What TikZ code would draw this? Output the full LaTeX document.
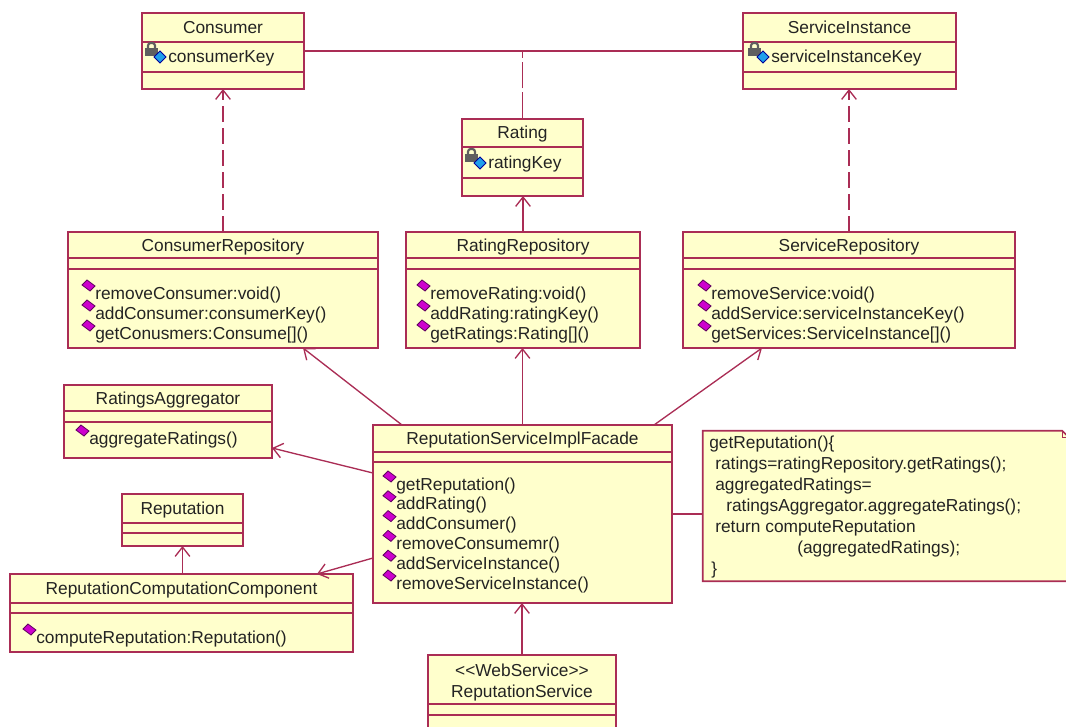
\documentclass[tikz,border=0pt]{standalone}
\usepackage{fontspec}
\setmainfont{Liberation Sans}
\usetikzlibrary{arrows.meta,calc,fit}

\definecolor{umlfill}{RGB}{255,255,204}
\definecolor{umlline}{RGB}{170,45,85}
\definecolor{umltext}{RGB}{35,35,35}
\definecolor{opmag}{RGB}{205,0,205}
\definecolor{opdark}{RGB}{95,0,95}
\definecolor{keycyan}{RGB}{30,160,235}
\definecolor{lockgray}{RGB}{95,95,95}

\newcommand{\umlfont}{\fontsize{13}{15}\selectfont}

\tikzset{
  clsbox/.style={draw=umlline, fill=umlfill, line width=1.2pt, inner sep=0pt, outer sep=0pt},
  clsline/.style={draw=umlline, line width=1.2pt},
  clstitle/.style={anchor=base, inner sep=0pt, text=umltext, font=\umlfont},
  member/.style={anchor=base west, inner sep=0pt, text=umltext, font=\umlfont},
  assoc/.style={draw=umlline, line width=1pt},
  linkdash/.style={dash pattern=on 20pt off 3pt},
  dep/.style={assoc, dash pattern=on 12pt off 4.5pt, -{Straight Barb[length=7pt,width=11pt]}},
  nav/.style={assoc, -{Straight Barb[length=7pt,width=11pt]}},
  opicon/.pic={
    \filldraw[draw=opdark, fill=opmag, line width=0.6pt]
      (-13,-8) -- (-8,-13) -- (0,-7) -- (-5,-2) -- cycle;
  },
  keyicon/.pic={
    \draw[lockgray, line width=1.6pt, rounded corners=2pt] (-20,-8) -- (-20,-14) -- (-13,-14) -- (-13,-8);
    \fill[lockgray] (-23,-9) rectangle (-10,-1);
    \filldraw[draw=blue!60!black, fill=keycyan, line width=0.6pt]
      (-14,0) -- (-8,-6) -- (-2,0) -- (-8,6) -- cycle;
  },
}

% name, left, top, right, bottom, first divider, second divider, title
\newcommand{\umlclass}[8]{%
  \node[clsbox, fit={(#2,#3) (#4,#5)}] (#1) {};
  \draw[clsline] (#2,#6) -- (#4,#6) (#2,#7) -- (#4,#7);
  \node[clstitle] (#1-t) at ({(#2+#4)/2},{(#3+#6)/2+6}) {#8};
}
\newcommand{\umlop}[4]{%
  \pic at (#2,#3) {opicon};
  \node[member] (#1) at (#2,{#3+6}) {#4};
}
\newcommand{\umlattr}[4]{%
  \pic at (#2,#3) {keyicon};
  \node[member] (#1) at (#2,{#3+6}) {#4};
}

\begin{document}
\begin{tikzpicture}[x=0.75pt, y=-0.75pt]
  \useasboundingbox (0,0) rectangle (1066,727);

  \umlclass{consumer}{142}{13}{304}{89}{42}{72}{Consumer}
  \umlclass{svcinst}{743}{13}{956}{89}{42}{72}{ServiceInstance}
  \umlclass{rating}{462}{119}{583}{196}{147}{178}{Rating}
  \umlclass{conrepo}{68}{232}{378}{348}{258}{269}{ConsumerRepository}
  \umlclass{ratrepo}{406}{232}{640}{348}{258}{269}{RatingRepository}
  \umlclass{svcrepo}{683}{232}{1015}{348}{258}{269}{ServiceRepository}
  \umlclass{ragg}{64}{385}{272}{458}{411}{422}{RatingsAggregator}
  \umlclass{facade}{373}{425}{672}{603}{452}{462}{ReputationServiceImplFacade}
  \umlclass{reput}{122}{494}{243}{546}{523}{533}{Reputation}
  \umlclass{rcc}{10}{574}{353}{652}{603}{613}{ReputationComputationComponent}

  \node[clsbox, fit={(428,655) (616,740)}] (websvc) {};
  \draw[clsline] (428,704) -- (616,704) (428,715) -- (616,715);
  \node[clstitle] (websvc-s) at (522,676) {{<}{<}WebService{>}{>}};
  \node[clstitle] (websvc-t) at (522,697) {ReputationService};

  \umlattr{consumer-a}{168}{57}{consumerKey}
  \umlattr{svcinst-a}{771}{57}{serviceInstanceKey}
  \umlattr{rating-a}{488}{163}{ratingKey}

  \foreach \op [count=\i, evaluate=\i as \y using 273+20*\i] in
    {{removeConsumer:void()}, {addConsumer:consumerKey()}, {getConusmers:Consume[]()}}
    {\umlop{conrepo-\i}{95}{\y}{\op}}
  \foreach \op [count=\i, evaluate=\i as \y using 273+20*\i] in
    {{removeRating:void()}, {addRating:ratingKey()}, {getRatings:Rating[]()}}
    {\umlop{ratrepo-\i}{430}{\y}{\op}}
  \foreach \op [count=\i, evaluate=\i as \y using 273+20*\i] in
    {{removeService:void()}, {addService:serviceInstanceKey()}, {getServices:ServiceInstance[]()}}
    {\umlop{svcrepo-\i}{711}{\y}{\op}}
  \foreach \op [count=\i, evaluate=\i as \y using 464.2+19.8*\i] in
    {getReputation(), addRating(), addConsumer(), removeConsumemr(),
     addServiceInstance(), removeServiceInstance()}
    {\umlop{facade-\i}{396}{\y}{\op}}
  \umlop{ragg-1}{89}{438}{aggregateRatings()}
  \umlop{rcc-1}{36}{637}{computeReputation:Reputation()}

  % note
  \node[inner sep=0pt, fit={(703,431) (1069,581)}] (note) {};
  \filldraw[clsbox] (note.south west) -- (note.north west) -- ($(note.north east)+(-7,0)$)
    -- ($(note.north east)+(0,7)$) -- (note.south east) -- cycle;
  \draw[clsline, line width=0.8pt] ($(note.north east)+(-7,0)$) -- ($(note.north east)+(-7,7)$)
    -- ($(note.north east)+(0,7)$);
  \node[member] (note-1) at (709,448) {getReputation()\{};
  \node[member] (note-2) at (715,469) {ratings=ratingRepository.getRatings();};
  \node[member] (note-3) at (715,490) {aggregatedRatings=};
  \node[member] (note-4) at (726,511) {ratingsAggregator.aggregateRatings();};
  \node[member] (note-5) at (715,532) {return computeReputation};
  \node[member] (note-6) at (797,553) {(aggregatedRatings);};
  \node[member] (note-7) at (711,574) {\}};

  % connectors
  \draw[assoc] (consumer) -- (svcinst);
  \draw[assoc, linkdash] (rating.north) -- (rating.north |- consumer.east);
  \draw[dep] (conrepo) -- (consumer);
  \draw[dep] (svcrepo.north) -- (svcrepo.north |- svcinst.south);
  \draw[nav] (ratrepo.north) -- (ratrepo.north |- rating.south);
  \draw[nav] ($(facade.north west)+(29,0)$) -- ($(conrepo.south west)+(235,0)$);
  \draw[nav] (facade.north) -- (facade.north |- ratrepo.south);
  \draw[nav] ($(facade.north east)+(-18,0)$) -- ($(svcrepo.south west)+(79,0)$);
  \draw[nav] ($(facade.north west)+(0,48)$) -- ($(ragg.north east)+(0,63)$);
  \draw[nav] ($(facade.north west)+(0,133)$) -- ($(rcc.north west)+(307,0)$);
  \draw[nav] (reput.south |- rcc.north) -- (reput.south);
  \draw[nav] (websvc.north) -- (websvc.north |- facade.south);
  \draw[assoc] (facade.east) -- (facade.east -| note.west);
\end{tikzpicture}
\end{document}
